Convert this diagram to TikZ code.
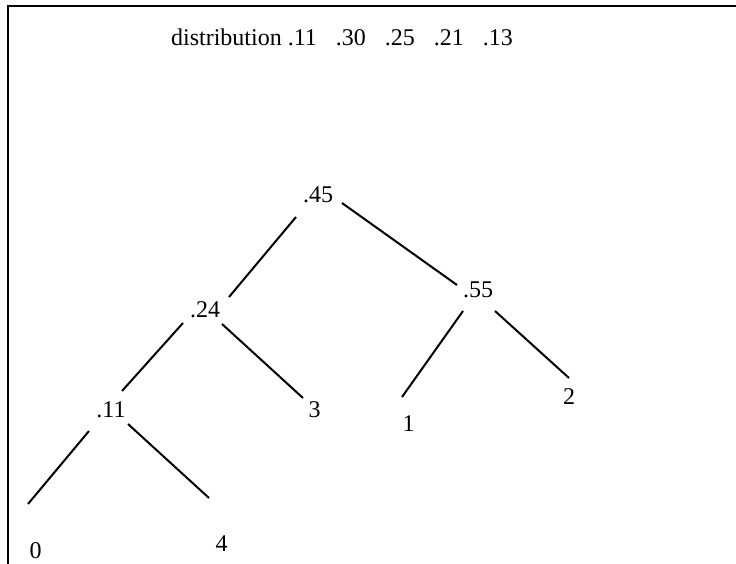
\documentclass[tikz,border=0pt]{standalone}
\usepackage{fontspec}
\setmainfont{Liberation Serif}
\usetikzlibrary{calc}
\begin{document}
\begin{tikzpicture}[x=1pt,y=-1pt,
  lbl/.style={inner sep=0pt,anchor=base,font=\fontsize{24}{28}\selectfont},
  edge/.style={line width=2pt,black},
  frameline/.style={line width=1.8pt,black}]
\useasboundingbox (0,0) rectangle (736,564);
% frame
\draw[frameline] (8,564) -- (8,6) -- (736,6);
% title
\node[lbl] (title) at (342,46) {distribution .11\hspace{19pt}.30\hspace{19pt}.25\hspace{19pt}.21\hspace{19pt}.13};
% tree nodes
\node[lbl] (n45) at (318,203) {.45};
\node[lbl] (n24) at (205,317) {.24};
\node[lbl] (n55) at (478,297) {.55};
\node[lbl] (n11) at (111,417) {.11};
\node[lbl] (n3)  at (314.5,417) {3};
\node[lbl] (n1)  at (408.5,431) {1};
\node[lbl] (n2)  at (569,404) {2};
\node[lbl] (n0)  at (35.5,558) {0};
\node[lbl] (n4)  at (221.5,551) {4};
% edges
\draw[edge] ($(n45.base)+(-22,14)$) -- ($(n24.base)+(24,-20)$);
\draw[edge] ($(n45.base)+(24,0)$) -- ($(n55.base)+(-21,-12)$);
\draw[edge] ($(n24.base)+(-22,6)$) -- ($(n11.base)+(11,-26)$);
\draw[edge] ($(n24.base)+(17,7)$) -- ($(n3.base)+(-11.5,-19)$);
\draw[edge] ($(n55.base)+(-15,14)$) -- ($(n1.base)+(-6.5,-34)$);
\draw[edge] ($(n55.base)+(17,14)$) -- ($(n2.base)+(0,-26)$);
\draw[edge] ($(n11.base)+(-22,14)$) -- ($(n0.base)+(-7.5,-54)$);
\draw[edge] ($(n11.base)+(17,7)$) -- ($(n4.base)+(-12.5,-53)$);
\end{tikzpicture}
\end{document}
